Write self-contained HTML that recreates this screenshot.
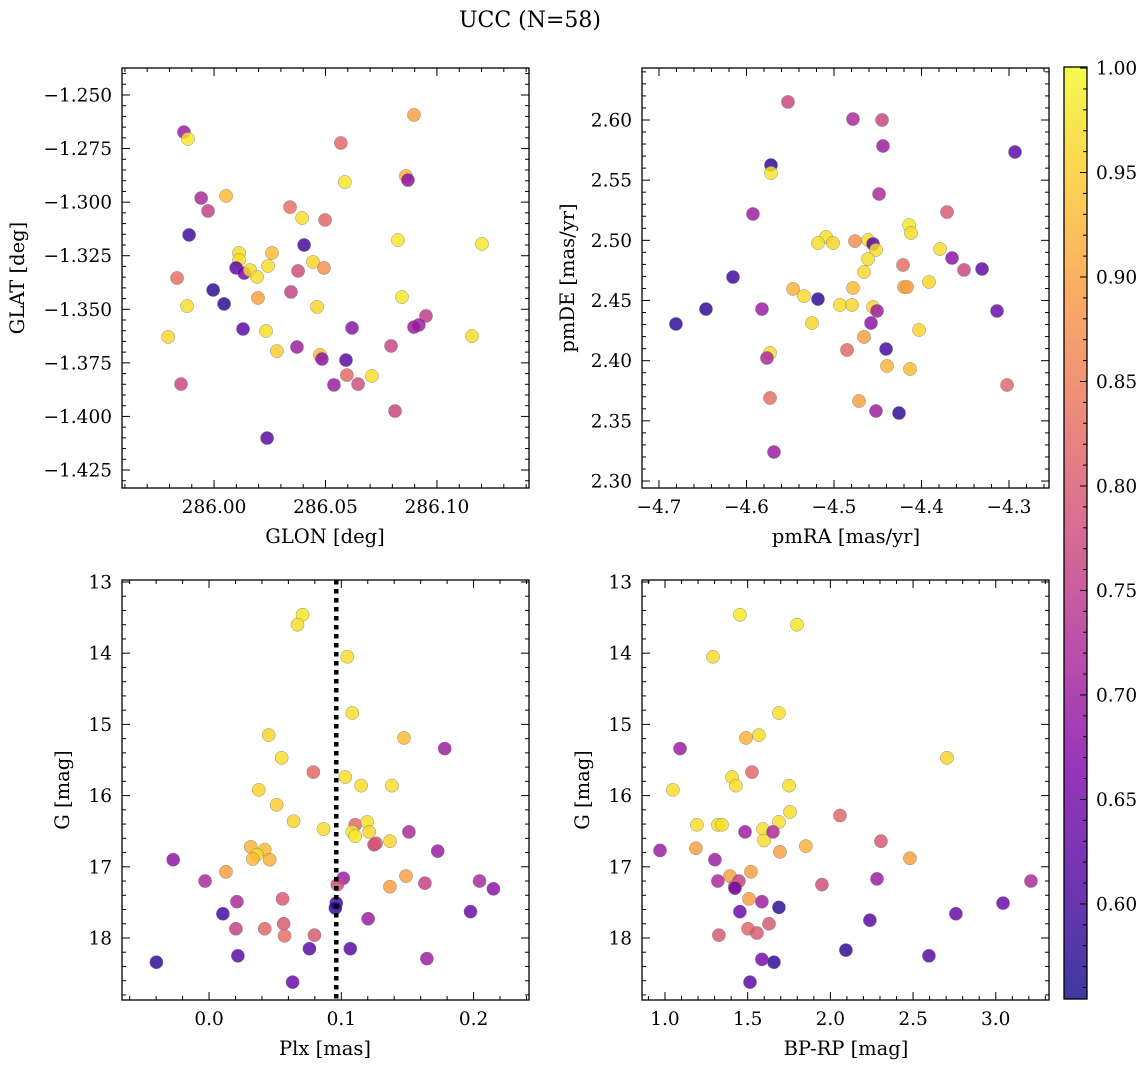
<!DOCTYPE html>
<html><head><meta charset="utf-8">
<style>
html,body{margin:0;padding:0;background:#fff;}
svg{display:block;font-family:"DejaVu Serif","Liberation Serif",serif;}
</style></head>
<body>
<svg id="fig" width="1148" height="1067" viewBox="0 0 1148 1067" xmlns="http://www.w3.org/2000/svg">
<text x="530" y="27" font-size="22" text-anchor="middle">UCC (N=58)</text>
<defs>
<linearGradient id="cbgrad" x1="0" y1="1" x2="0" y2="0">
<stop offset="0" stop-color="#0d0887"/><stop offset="0.125" stop-color="#4c02a1"/><stop offset="0.25" stop-color="#7e03a8"/><stop offset="0.375" stop-color="#a92395"/><stop offset="0.5" stop-color="#cc4778"/><stop offset="0.625" stop-color="#e66c5c"/><stop offset="0.75" stop-color="#f89540"/><stop offset="0.875" stop-color="#fdc527"/><stop offset="1" stop-color="#f0f921"/>
</linearGradient>
</defs>
</svg>
<script>
// ---- Panel 1: GLON vs GLAT ----
const p1Lon=[285.9865,285.9883,286.0897,286.0569,286.0861,286.0870,286.0587,285.9942,286.0054,285.9973,286.0341,286.0498,285.9888,286.0395,286.0404,286.0825,286.1202,286.0112,286.0260,286.0112,286.0444,286.0099,286.0135,286.0161,286.0242,286.0193,286.0377,286.0493,285.9834,285.9996,286.0045,286.0345,286.0197,286.0462,286.0843,285.9879,286.0130,286.0619,286.0951,286.0919,286.0897,286.0233,285.9794,286.0282,286.1157,286.0372,286.0475,286.0484,286.0592,286.0794,286.0708,286.0596,285.9852,286.0538,286.0646,286.0812,286.0238];
const p1Lat=[-1.2673,-1.2705,-1.2593,-1.2724,-1.2878,-1.2897,-1.2906,-1.2981,-1.2971,-1.3041,-1.3023,-1.3083,-1.3153,-1.3074,-1.3200,-1.3177,-1.3195,-1.3237,-1.3237,-1.3270,-1.3279,-1.3307,-1.3331,-1.3317,-1.3298,-1.3349,-1.3321,-1.3307,-1.3354,-1.3410,-1.3475,-1.3419,-1.3447,-1.3489,-1.3443,-1.3485,-1.3592,-1.3587,-1.3531,-1.3573,-1.3583,-1.3601,-1.3629,-1.3695,-1.3625,-1.3676,-1.3713,-1.3732,-1.3737,-1.3671,-1.3811,-1.3807,-1.3849,-1.3853,-1.3849,-1.3975,-1.4101];
const p1C=[0.70,0.98,0.90,0.82,0.92,0.68,0.98,0.72,0.93,0.76,0.83,0.82,0.60,0.97,0.60,0.98,0.98,0.97,0.93,0.97,0.96,0.62,0.66,0.97,0.97,0.97,0.78,0.88,0.83,0.58,0.58,0.76,0.90,0.96,0.98,0.97,0.62,0.68,0.75,0.70,0.70,0.97,0.96,0.95,0.97,0.70,0.93,0.68,0.62,0.77,0.97,0.82,0.77,0.70,0.78,0.77,0.62];
const p1XTicks=[286.00,286.05,286.10];
const p1XLabels=["286.00","286.05","286.10"];
const p1YTicks=[-1.250,-1.275,-1.300,-1.325,-1.350,-1.375,-1.400,-1.425];
const p1YLabels=["−1.250","−1.275","−1.300","−1.325","−1.350","−1.375","−1.400","−1.425"];

// ---- Panel 2: pmRA vs pmDE ----
const p2RA=[-4.5526,-4.4783,-4.4451,-4.5720,-4.5720,-4.2931,-4.4440,-4.4485,-4.5926,-4.3708,-4.4142,-4.4120,-4.5091,-4.5011,-4.5183,-4.4611,-4.4760,-4.4554,-4.4520,-4.3788,-4.3651,-4.4611,-4.3514,-4.3308,-4.6154,-4.4211,-4.4657,-4.3914,-4.6463,-4.4200,-4.4783,-4.5468,-4.5343,-4.4165,-4.5183,-4.4931,-4.4794,-4.4554,-4.5823,-4.4508,-4.3137,-4.5251,-4.4577,-4.6806,-4.4028,-4.4657,-4.4851,-4.4405,-4.5731,-4.5766,-4.3022,-4.4131,-4.4394,-4.5731,-4.4714,-4.4520,-4.4257,-4.5686];
const p2DE=[2.6150,2.6008,2.6000,2.5626,2.5560,2.5734,2.5784,2.5385,2.5219,2.5235,2.5127,2.5061,2.5028,2.4978,2.4978,2.5003,2.4994,2.4970,2.4920,2.4928,2.4853,2.4845,2.4754,2.4762,2.4695,2.4795,2.4737,2.4654,2.4429,2.4612,2.4604,2.4596,2.4537,2.4612,2.4512,2.4463,2.4463,2.4446,2.4429,2.4413,2.4413,2.4313,2.4313,2.4305,2.4255,2.4197,2.4089,2.4097,2.4064,2.4022,2.3798,2.3931,2.3956,2.3690,2.3665,2.3582,2.3565,2.3241];
const p2C=[0.77,0.72,0.77,0.58,0.98,0.62,0.70,0.72,0.70,0.80,0.98,0.97,0.97,0.96,0.97,0.97,0.88,0.62,0.97,0.97,0.68,0.97,0.77,0.63,0.60,0.83,0.97,0.96,0.58,0.90,0.93,0.92,0.97,0.90,0.58,0.97,0.96,0.96,0.70,0.70,0.64,0.96,0.68,0.58,0.96,0.90,0.82,0.60,0.97,0.72,0.82,0.93,0.92,0.83,0.90,0.70,0.58,0.70];
const p2XTicks=[-4.7,-4.6,-4.5,-4.4,-4.3];
const p2XLabels=["−4.7","−4.6","−4.5","−4.4","−4.3"];
const p2YTicks=[2.30,2.35,2.40,2.45,2.50,2.55,2.60];
const p2YLabels=["2.30","2.35","2.40","2.45","2.50","2.55","2.60"];

// ---- Panel 3: Plx vs G ----
const p3Plx=[0.0707,0.0669,0.1045,0.1083,0.0451,0.1474,0.1782,0.0549,0.0789,0.1030,0.0376,0.1383,0.1150,0.0511,0.0639,0.0865,0.1105,0.1195,0.1083,0.1105,0.1211,0.1248,0.1511,0.1263,0.1368,0.1729,0.0316,0.0421,0.0361,0.0331,0.0459,-0.0271,-0.0030,0.0128,0.1015,0.0970,0.1489,0.1632,0.2045,0.2150,0.1368,0.0211,0.0556,0.0962,0.0105,0.0955,0.1977,0.1203,0.0564,0.0421,0.0571,0.0797,0.0203,0.0759,0.1068,0.0218,0.1647,-0.0398,0.0632];
const p3G=[13.46,13.60,14.05,14.84,15.15,15.19,15.34,15.47,15.67,15.74,15.92,15.86,15.86,16.13,16.36,16.47,16.41,16.37,16.51,16.57,16.51,16.69,16.51,16.67,16.64,16.78,16.72,16.76,16.83,16.89,16.90,16.90,17.20,17.07,17.16,17.25,17.13,17.23,17.20,17.31,17.28,17.49,17.45,17.51,17.66,17.58,17.63,17.73,17.80,17.87,17.97,17.96,17.87,18.15,18.15,18.25,18.29,18.34,18.62];
const p3C=[0.98,0.97,0.97,0.97,0.96,0.93,0.70,0.97,0.82,0.97,0.96,0.97,0.97,0.95,0.96,0.97,0.82,0.97,0.98,0.98,0.96,0.76,0.72,0.80,0.96,0.70,0.92,0.93,0.96,0.93,0.92,0.68,0.72,0.90,0.70,0.78,0.90,0.76,0.72,0.68,0.90,0.72,0.80,0.60,0.60,0.58,0.64,0.70,0.80,0.82,0.83,0.80,0.76,0.62,0.62,0.62,0.70,0.58,0.64];
const p3XTicks=[0.0,0.1,0.2];
const p3XLabels=["0.0","0.1","0.2"];
const p3YTicks=[13,14,15,16,17,18];
const p3YLabels=["13","14","15","16","17","18"];
const p3PlxLine=0.0962;

// ---- Panel 4: BP-RP vs G ----
const p4BR=[1.453,1.798,1.290,1.689,1.568,2.705,1.490,1.091,1.526,1.405,1.048,1.429,1.750,1.756,2.058,1.193,1.320,1.345,1.593,1.599,1.689,1.484,1.653,2.306,1.187,1.852,1.695,0.970,2.481,1.302,1.393,1.520,1.320,1.447,2.282,3.213,1.423,1.949,1.423,1.508,1.586,3.044,1.689,1.453,2.759,2.239,1.629,1.502,1.556,1.326,2.094,1.586,2.596,1.659,1.514];
const p4G=[13.46,13.60,14.05,14.84,15.15,15.47,15.19,15.34,15.67,15.74,15.92,15.86,15.86,16.23,16.28,16.41,16.41,16.41,16.47,16.63,16.37,16.51,16.51,16.64,16.74,16.71,16.79,16.77,16.88,16.90,17.13,17.07,17.20,17.20,17.17,17.20,17.27,17.25,17.30,17.45,17.49,17.51,17.57,17.63,17.66,17.75,17.80,17.87,17.93,17.96,18.17,18.30,18.25,18.34,18.62];
const p4C=[0.98,0.98,0.97,0.97,0.97,0.96,0.92,0.70,0.82,0.97,0.97,0.97,0.97,0.97,0.82,0.97,0.97,0.97,0.97,0.97,0.97,0.70,0.72,0.80,0.90,0.92,0.90,0.70,0.90,0.70,0.90,0.90,0.72,0.76,0.70,0.72,0.82,0.78,0.64,0.90,0.70,0.64,0.58,0.64,0.64,0.62,0.80,0.82,0.80,0.80,0.58,0.66,0.62,0.58,0.62];
const p4XTicks=[1.0,1.5,2.0,2.5,3.0];
const p4XLabels=["1.0","1.5","2.0","2.5","3.0"];
const p4YTicks=[13,14,15,16,17,18];
const p4YLabels=["13","14","15","16","17","18"];

// ---- Colorbar ----
const cbTicks=[0.60,0.65,0.70,0.75,0.80,0.85,0.90,0.95,1.00];
const cbLabels=["0.60","0.65","0.70","0.75","0.80","0.85","0.90","0.95","1.00"];
const cMin=0.5545, cMax=1.0005;

const NS="http://www.w3.org/2000/svg";
const svg=document.getElementById('fig');
const stops=[[13,8,135],[76,2,161],[126,3,168],[169,35,149],[204,71,120],[230,108,92],[248,149,64],[253,197,39],[240,249,33]];
function plasma(v){
  let t=(v-cMin)/(cMax-cMin); t=Math.max(0,Math.min(1,t));
  const f=t*8, i=Math.min(7,Math.floor(f)), r=f-i;
  const a=stops[i], b=stops[i+1];
  return 'rgb('+a.map((c,k)=>Math.round(c+(b[k]-c)*r)).join(',')+')';
}
function mk(tag,attrs,parent){
  const e=document.createElementNS(NS,tag);
  for(const k in attrs) e.setAttribute(k,attrs[k]);
  (parent||svg).appendChild(e); return e;
}
const TF=18.5, LF=19.5;
function panel(o){
  const g=mk('g',{});
  
  
  const L=o.box[0],T=o.box[1],R=o.box[2],B=o.box[3];
  const sx=v=>L+(v-o.xr[0])/(o.xr[1]-o.xr[0])*(R-L);
  const sy=v=>o.yinv? T+(v-o.yr[0])/(o.yr[1]-o.yr[0])*(B-T) : B-(v-o.yr[0])/(o.yr[1]-o.yr[0])*(B-T);
  const pg=mk('g',{},g);
  
  
  for(let i=0;i<o.xs.length;i++){
    const c=mk('circle',{cx:sx(o.xs[i]),cy:sy(o.ys[i]),r:6.6,fill:plasma(o.cs[i]),'fill-opacity':0.82,stroke:'#777','stroke-width':0.5,'stroke-opacity':0.8},pg);
    
    
  }
  if(o.vline!==undefined){
    const vl=mk('line',{x1:sx(o.vline),x2:sx(o.vline),y1:T,y2:B,stroke:'#000','stroke-width':4.5,'stroke-dasharray':'4.5,4.5'},g);
    
    
  }
  const tg=mk('g',{stroke:'#000','stroke-width':1},g);
  const xMin=o.xr[0],xMax=o.xr[1],yLo=Math.min(o.yr[0],o.yr[1]),yHi=Math.max(o.yr[0],o.yr[1]);
  const base=o.xt[0];
  for(let i=-300;i<=300;i++){const v=base+i*o.xminor; if(v<xMin||v>xMax) continue;
    const isMaj=Math.abs(((v-base)/o.xmajor)-Math.round((v-base)/o.xmajor))<1e-6; const len=isMaj?8:4; const x=sx(v);
    mk('line',{x1:x,x2:x,y1:B,y2:B-len},tg); mk('line',{x1:x,x2:x,y1:T,y2:T+len},tg);}
  const ybase=o.yt[0];
  for(let i=-300;i<=300;i++){const v=ybase+i*o.yminor; if(v<yLo||v>yHi) continue;
    const isMaj=Math.abs(((v-ybase)/o.ymajor)-Math.round((v-ybase)/o.ymajor))<1e-6; const len=isMaj?8:4; const y=sy(v);
    mk('line',{x1:L,x2:L+len,y1:y,y2:y},tg); mk('line',{x1:R,x2:R-len,y1:y,y2:y},tg);}
  const fr=mk('rect',{x:L,y:T,width:R-L,height:B-T,fill:'none',stroke:'#000','stroke-width':1.3},g);
  
  
  for(let i=0;i<o.xt.length;i++){
    const t=mk('text',{x:sx(o.xt[i]),y:B+25,'font-size':TF,'text-anchor':'middle'},g); t.textContent=o.xl[i];
    
    
  }
  for(let i=0;i<o.yt.length;i++){
    const t=mk('text',{x:L-10,y:sy(o.yt[i])+6.5,'font-size':TF,'text-anchor':'end'},g); t.textContent=o.yl[i];
    
    
  }
  const xt=mk('text',{x:o.xtx,y:B+55,'font-size':LF,'text-anchor':'middle'},g); xt.textContent=o.xtitle;
  
  
  const yt=mk('text',{x:0,y:0,'font-size':LF,'text-anchor':'middle',transform:'translate('+o.ytx+','+((T+B)/2)+') rotate(-90)'},g); yt.textContent=o.ytitle;
  
  
}

panel({name:'glon-glat-panel',box:[122,68,529,488],xr:[285.9587,286.1413],yr:[-1.4334,-1.2374],xs:p1Lon,ys:p1Lat,cs:p1C,
  xt:p1XTicks,xl:p1XLabels,yt:p1YTicks,yl:p1YLabels,xmajor:0.05,xminor:0.01,ymajor:0.025,yminor:0.005,xtitle:'GLON [deg]',xtx:325,ytitle:'GLAT [deg]',ytx:24});
panel({name:'proper-motion-panel',box:[642,68,1049,488],xr:[-4.7194,-4.2543],yr:[2.2942,2.6432],xs:p2RA,ys:p2DE,cs:p2C,
  xt:p2XTicks,xl:p2XLabels,yt:p2YTicks,yl:p2YLabels,xmajor:0.1,xminor:0.02,ymajor:0.05,yminor:0.01,xtitle:'pmRA [mas/yr]',xtx:846,ytitle:'pmDE [mas/yr]',ytx:574});
panel({name:'plx-g-panel',box:[122,580,529,1000],xr:[-0.0658,0.2419],yr:[12.972,18.871],yinv:true,xs:p3Plx,ys:p3G,cs:p3C,vline:p3PlxLine,
  xt:p3XTicks,xl:p3XLabels,yt:p3YTicks,yl:p3YLabels,xmajor:0.1,xminor:0.02,ymajor:1,yminor:0.2,xtitle:'Plx [mas]',xtx:325,ytitle:'G [mag]',ytx:69});
panel({name:'cmd-panel',box:[642,580,1049,1000],xr:[0.861,3.322],yr:[12.972,18.871],yinv:true,xs:p4BR,ys:p4G,cs:p4C,
  xt:p4XTicks,xl:p4XLabels,yt:p4YTicks,yl:p4YLabels,xmajor:0.5,xminor:0.1,ymajor:1,yminor:0.2,xtitle:'BP-RP [mag]',xtx:846,ytitle:'G [mag]',ytx:589});

const cbL=1064,cbR=1087,cbT=67,cbB=999;
const cg=mk('g',{});


mk('rect',{x:cbL,y:cbT,width:cbR-cbL,height:cbB-cbT,fill:'url(#cbgrad)','fill-opacity':0.8},cg);
mk('rect',{x:cbL,y:cbT,width:cbR-cbL,height:cbB-cbT,fill:'none',stroke:'#000','stroke-width':1.3},cg);
const cy=v=>cbB-(v-cMin)/(cMax-cMin)*(cbB-cbT);
for(let i=-10;i<=50;i++){const v=0.60+i*0.01; if(v<cMin||v>cMax) continue;
  const maj=(i%5===0); mk('line',{x1:cbR,x2:cbR-(maj?7:4),y1:cy(v),y2:cy(v),stroke:'#000','stroke-width':1},cg);}
for(let i=0;i<cbTicks.length;i++){
  const t=mk('text',{x:cbR+9,y:cy(cbTicks[i])+6.5,'font-size':TF},cg); t.textContent=cbLabels[i];
  
  
}
</script>
</body></html>
